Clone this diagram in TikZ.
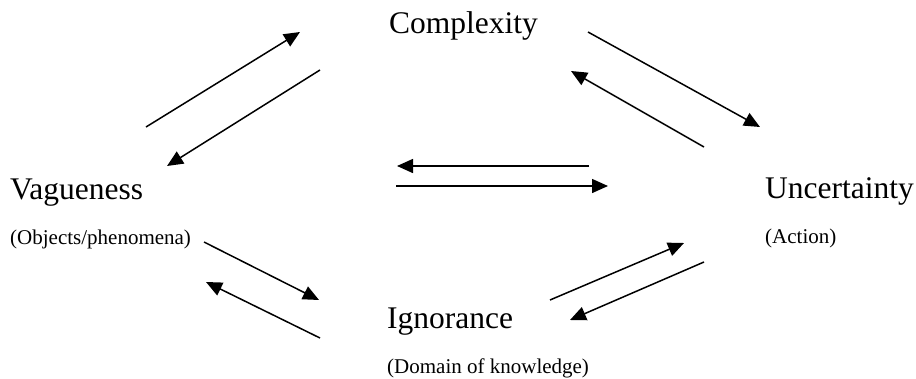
\documentclass[tikz,border=0pt]{standalone}
\usepackage{fontspec}
\setmainfont{Liberation Serif}
\usetikzlibrary{arrows.meta}
\begin{document}
\begin{tikzpicture}[x=1pt,y=-1pt,
  big/.style={anchor=base west,inner sep=0pt,font=\fontsize{31.5}{34}\selectfont},
  small/.style={anchor=base west,inner sep=0pt,font=\fontsize{21}{23}\selectfont},
  conn/.style={line width=1.5pt,-{Triangle[length=16pt,width=14pt]}}]
\useasboundingbox (0,0) rectangle (916,378);
% labels
\node[big] (cx) at (389,33) {Complexity};
\node[big] (vg) at (10,199) {Vagueness};
\node[small] (vgs) at (10,244) {(Objects/phenomena)};
\node[big] (un) at (765,198) {Uncertainty};
\node[small] (uns) at (765,243) {(Action)};
\node[big] (ig) at (387,328) {Ignorance};
\node[small] (igs) at (387,373) {(Domain of knowledge)};
% arrow end points
\coordinate (a1s) at (146,127); \coordinate (a1e) at (300,32);
\coordinate (a2s) at (320,70);  \coordinate (a2e) at (167,166);
\coordinate (a3s) at (588,32);  \coordinate (a3e) at (760,127);
\coordinate (a4s) at (704,147); \coordinate (a4e) at (571,71);
\coordinate (a5s) at (589,166); \coordinate (a5e) at (397,166);
\coordinate (a6s) at (396,186); \coordinate (a6e) at (608,186);
\coordinate (a7s) at (204,242); \coordinate (a7e) at (319,300);
\coordinate (a8s) at (320,338); \coordinate (a8e) at (206,282);
\coordinate (a9s) at (550,300); \coordinate (a9e) at (684,243);
\coordinate (a10s) at (704,262); \coordinate (a10e) at (570,320);
% connectors
\draw[conn] (a1s) -- (a1e);
\draw[conn] (a2s) -- (a2e);
\draw[conn] (a3s) -- (a3e);
\draw[conn] (a4s) -- (a4e);
\draw[conn] (a5s) -- (a5e);
\draw[conn] (a6s) -- (a6e);
\draw[conn] (a7s) -- (a7e);
\draw[conn] (a8s) -- (a8e);
\draw[conn] (a9s) -- (a9e);
\draw[conn] (a10s) -- (a10e);
\end{tikzpicture}
\end{document}
